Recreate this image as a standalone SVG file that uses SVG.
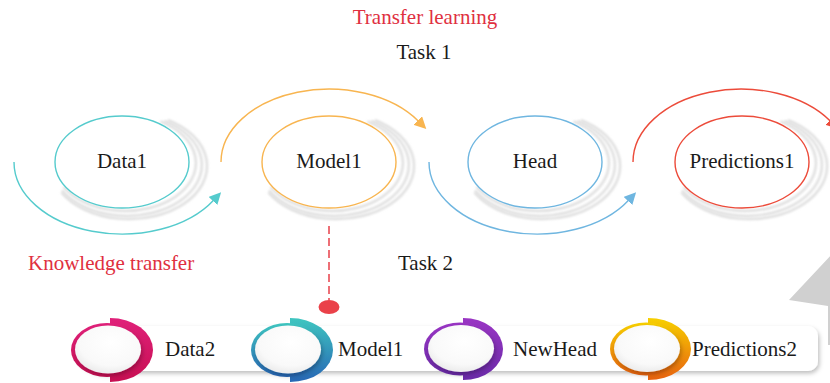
<svg xmlns="http://www.w3.org/2000/svg" xmlns:xlink="http://www.w3.org/1999/xlink" width="830" height="383" viewBox="0 0 830 383">
<style>
  .lbl{font-family:"Liberation Serif","Times New Roman",serif;font-size:21px;fill:#1a1a1a}
  .red{fill:#e0303f}
  .ring{fill:none;stroke:#dedede;stroke-width:2.4;filter:url(#soft)}
  .node{fill:#fff;stroke-width:1.4}
  .arc{fill:none;stroke-width:1.4}
</style>
<defs>
  <filter id="soft" x="-20%" y="-20%" width="140%" height="140%"><feGaussianBlur stdDeviation="1.1"/></filter>
  <filter id="shadow" x="-10%" y="-30%" width="120%" height="170%"><feDropShadow dx="1.5" dy="2.5" stdDeviation="2" flood-color="#000" flood-opacity="0.25"/></filter>
  <g id="rings">
    <path class="ring" d="M38.5,-40.6 A71,48 0 1 1 -58.5,25"/>
    <path class="ring" d="M42.5,-41.2 A75,51 0 1 1 -60,28.5"/>
    <path class="ring" d="M46,-41.9 A78,53 0 1 1 -60.5,30.5"/>
  </g>
  <marker id="mTeal" viewBox="0 0 12 12" refX="1" refY="6" markerWidth="12" markerHeight="12" markerUnits="userSpaceOnUse" orient="auto"><path d="M0,0 L12,6 L0,12 Z" fill="#55cbcd"/></marker>
  <marker id="mOrange" viewBox="0 0 12 12" refX="1" refY="6" markerWidth="12" markerHeight="12" markerUnits="userSpaceOnUse" orient="auto"><path d="M0,0 L12,6 L0,12 Z" fill="#f8b550"/></marker>
  <marker id="mBlue" viewBox="0 0 12 12" refX="1" refY="6" markerWidth="12" markerHeight="12" markerUnits="userSpaceOnUse" orient="auto"><path d="M0,0 L12,6 L0,12 Z" fill="#6fb6e0"/></marker>
  <marker id="mRed" viewBox="0 0 12 12" refX="1" refY="6" markerWidth="12" markerHeight="12" markerUnits="userSpaceOnUse" orient="auto"><path d="M0,0 L12,6 L0,12 Z" fill="#ec4b3a"/></marker>
  <radialGradient id="gWhite" cx="0.55" cy="0.35" r="0.75"><stop offset="0" stop-color="#ffffff"/><stop offset="0.65" stop-color="#f9f9f9"/><stop offset="1" stop-color="#e4e4e4"/></radialGradient>
  <linearGradient id="gPink" x1="0" y1="0" x2="0" y2="1"><stop offset="0" stop-color="#e0217a"/><stop offset="1" stop-color="#c70f52"/></linearGradient>
  <linearGradient id="gTeal" x1="0" y1="0" x2="0" y2="1"><stop offset="0" stop-color="#3fc6c0"/><stop offset="1" stop-color="#2766b5"/></linearGradient>
  <linearGradient id="gPurple" x1="0" y1="0" x2="0" y2="1"><stop offset="0" stop-color="#9a35c4"/><stop offset="1" stop-color="#6a2aa8"/></linearGradient>
  <linearGradient id="gYellow" x1="0" y1="0" x2="0" y2="1"><stop offset="0" stop-color="#f7d000"/><stop offset="1" stop-color="#e8620f"/></linearGradient>
</defs>

<rect width="830" height="383" fill="#ffffff"/>

<!-- background arrow -->
<polygon points="789,300 832,254 832,345 828,345 828,306" fill="#d0d0d0"/>

<!-- titles -->
<g id="titles">
  <text class="lbl red" x="425" y="24" text-anchor="middle">Transfer learning</text>
  <text class="lbl" x="424" y="59" text-anchor="middle">Task 1</text>
  <text class="lbl red" x="28" y="270">Knowledge transfer</text>
  <text class="lbl" x="398" y="270">Task 2</text>
</g>

<!-- top row nodes -->
<g id="data1">
  <use xlink:href="#rings" href="#rings" x="122" y="162"/>
  <ellipse class="node" cx="122" cy="162" rx="67" ry="46" stroke="#55cbcd"/>
  <text class="lbl" x="122" y="168" text-anchor="middle">Data1</text>
</g>
<g id="model1">
  <use xlink:href="#rings" href="#rings" x="329" y="162"/>
  <ellipse class="node" cx="329" cy="162" rx="67" ry="46" stroke="#f8b550"/>
  <text class="lbl" x="329" y="168" text-anchor="middle">Model1</text>
</g>
<g id="head">
  <use xlink:href="#rings" href="#rings" x="535" y="162"/>
  <ellipse class="node" cx="535" cy="162" rx="67" ry="46" stroke="#6fb6e0"/>
  <text class="lbl" x="535" y="168" text-anchor="middle">Head</text>
</g>
<g id="predictions1">
  <use xlink:href="#rings" href="#rings" x="742" y="162"/>
  <ellipse class="node" cx="742" cy="162" rx="67" ry="46" stroke="#ec4b3a"/>
  <text class="lbl" x="742" y="168" text-anchor="middle">Predictions1</text>
</g>

<!-- connectors -->
<g id="connectors">
  <path class="arc" stroke="#55cbcd" d="M14,162 A108,72 0 0 0 213.6,200.2" marker-end="url(#mTeal)"/>
  <path class="arc" stroke="#f8b550" d="M221,162 A108,73 0 0 1 418.5,121.2" marker-end="url(#mOrange)"/>
  <path class="arc" stroke="#6fb6e0" d="M429,162 A108,72 0 0 0 628.6,200.2" marker-end="url(#mBlue)"/>
  <path class="arc" stroke="#ec4b3a" d="M633,162 A108,73 0 0 1 830.5,121.2" marker-end="url(#mRed)"/>
  <line x1="329" y1="226" x2="329" y2="300" stroke="#e8404a" stroke-width="1.5" stroke-dasharray="8 4"/>
  <ellipse cx="329" cy="307" rx="10.5" ry="7" fill="#ea4149"/>
</g>

<!-- bottom bar -->
<g id="bar">
  <rect x="110" y="326" width="708" height="45" rx="10" fill="#ffffff" filter="url(#shadow)"/>
</g>

<g id="data2">
  <path d="M110,318 A43,32 0 0 1 110,382 Z" fill="url(#gPink)"/>
  <ellipse cx="107" cy="350" rx="36" ry="27" fill="url(#gPink)"/>
  <ellipse cx="108" cy="349.5" rx="33" ry="24" fill="url(#gWhite)" filter="url(#shadow)"/>
  <text class="lbl" x="165" y="356">Data2</text>
</g>
<g id="model1b">
  <path d="M290,318 A43,32 0 0 1 290,382 Z" fill="url(#gTeal)"/>
  <ellipse cx="287" cy="350" rx="36" ry="27" fill="url(#gTeal)"/>
  <ellipse cx="288" cy="349.5" rx="33" ry="24" fill="url(#gWhite)" filter="url(#shadow)"/>
  <text class="lbl" x="338" y="356">Model1</text>
</g>
<g id="newhead">
  <path d="M463,318 A40,31 0 0 1 463,380 Z" fill="url(#gPurple)"/>
  <ellipse cx="460" cy="349" rx="36" ry="26.5" fill="url(#gPurple)"/>
  <ellipse cx="461" cy="348.5" rx="33" ry="23.5" fill="url(#gWhite)" filter="url(#shadow)"/>
  <text class="lbl" x="513" y="356">NewHead</text>
</g>
<g id="predictions2">
  <path d="M648,318 A43,31 0 0 1 648,380 Z" fill="url(#gYellow)"/>
  <ellipse cx="646" cy="349" rx="36" ry="26.5" fill="url(#gYellow)"/>
  <ellipse cx="647" cy="348.5" rx="33" ry="23.5" fill="url(#gWhite)" filter="url(#shadow)"/>
  <text class="lbl" x="692" y="356">Predictions2</text>
</g>
</svg>
